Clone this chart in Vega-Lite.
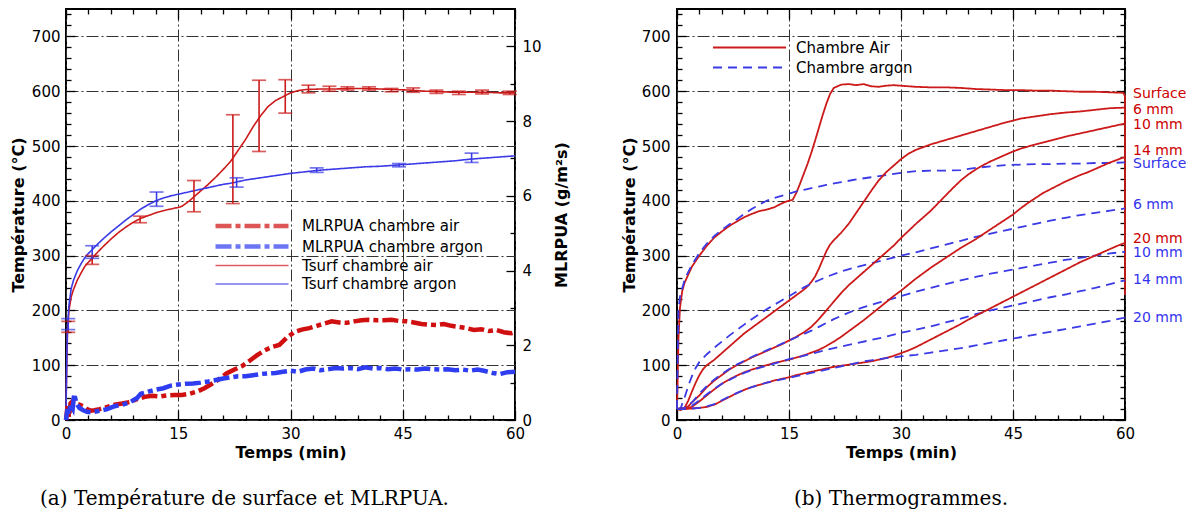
{
"$schema": "https://vega.github.io/schema/vega-lite/v6.json",
"padding": {"left": 9, "top": 6, "right": 5, "bottom": 10},
"bounds": "flush",
"spacing": 162,
"background": "white",
"resolve": {"scale": {"color": "independent", "strokeDash": "independent", "strokeWidth": "independent"}},
"config": {
  "view": {"stroke": "black", "strokeWidth": 2},
  "axis": {"labelFont": "DejaVu Sans", "labelFontSize": 15, "labelColor": "black", "titleFont": "DejaVu Sans", "titleFontSize": 16, "titleFontWeight": "bold", "titleColor": "black", "domain": false, "tickColor": "black", "tickWidth": 1.3, "gridColor": "#333333", "gridDash": [12, 3, 2, 3], "gridWidth": 1, "labelFlush": false, "labelOverlap": false, "labelBound": false}
},
"datasets": {
  "tsurf": [
    {"s":"Tsurf chambre air","t":0,"T":20},{"s":"Tsurf chambre air","t":0.1,"T":100},{"s":"Tsurf chambre air","t":0.2,"T":160},{"s":"Tsurf chambre air","t":0.4,"T":200},{"s":"Tsurf chambre air","t":0.7,"T":225},{"s":"Tsurf chambre air","t":1,"T":238},{"s":"Tsurf chambre air","t":1.5,"T":255},{"s":"Tsurf chambre air","t":2,"T":268},{"s":"Tsurf chambre air","t":2.5,"T":280},{"s":"Tsurf chambre air","t":3,"T":288},{"s":"Tsurf chambre air","t":3.5,"T":295},{"s":"Tsurf chambre air","t":4,"T":303},{"s":"Tsurf chambre air","t":5,"T":317},{"s":"Tsurf chambre air","t":6,"T":330},{"s":"Tsurf chambre air","t":7,"T":342},{"s":"Tsurf chambre air","t":8,"T":352},{"s":"Tsurf chambre air","t":9,"T":361},{"s":"Tsurf chambre air","t":10,"T":368},{"s":"Tsurf chambre air","t":11,"T":373},{"s":"Tsurf chambre air","t":12,"T":378},{"s":"Tsurf chambre air","t":13,"T":382},{"s":"Tsurf chambre air","t":14,"T":385},{"s":"Tsurf chambre air","t":15,"T":388},{"s":"Tsurf chambre air","t":15.5,"T":390},{"s":"Tsurf chambre air","t":16,"T":395},{"s":"Tsurf chambre air","t":16.5,"T":400},{"s":"Tsurf chambre air","t":17,"T":406},{"s":"Tsurf chambre air","t":17.5,"T":412},{"s":"Tsurf chambre air","t":18,"T":418},{"s":"Tsurf chambre air","t":19,"T":430},{"s":"Tsurf chambre air","t":20,"T":443},{"s":"Tsurf chambre air","t":21,"T":457},{"s":"Tsurf chambre air","t":22,"T":472},{"s":"Tsurf chambre air","t":23,"T":492},{"s":"Tsurf chambre air","t":24,"T":512},{"s":"Tsurf chambre air","t":25,"T":535},{"s":"Tsurf chambre air","t":26,"T":555},{"s":"Tsurf chambre air","t":27,"T":572},{"s":"Tsurf chambre air","t":28,"T":583},{"s":"Tsurf chambre air","t":29,"T":590},{"s":"Tsurf chambre air","t":30,"T":597},{"s":"Tsurf chambre air","t":31,"T":601},{"s":"Tsurf chambre air","t":32,"T":603},{"s":"Tsurf chambre air","t":34,"T":604},{"s":"Tsurf chambre air","t":36,"T":604},{"s":"Tsurf chambre air","t":38,"T":605},{"s":"Tsurf chambre air","t":40,"T":605},{"s":"Tsurf chambre air","t":42,"T":604},{"s":"Tsurf chambre air","t":44,"T":603},{"s":"Tsurf chambre air","t":46,"T":602},{"s":"Tsurf chambre air","t":48,"T":600},{"s":"Tsurf chambre air","t":50,"T":599},{"s":"Tsurf chambre air","t":52,"T":598},{"s":"Tsurf chambre air","t":54,"T":598},{"s":"Tsurf chambre air","t":56,"T":598},{"s":"Tsurf chambre air","t":58,"T":597},{"s":"Tsurf chambre air","t":60,"T":597},
    {"s":"Tsurf chambre argon","t":0,"T":20},{"s":"Tsurf chambre argon","t":0.1,"T":110},{"s":"Tsurf chambre argon","t":0.2,"T":170},{"s":"Tsurf chambre argon","t":0.4,"T":210},{"s":"Tsurf chambre argon","t":0.7,"T":240},{"s":"Tsurf chambre argon","t":1,"T":255},{"s":"Tsurf chambre argon","t":1.5,"T":272},{"s":"Tsurf chambre argon","t":2,"T":285},{"s":"Tsurf chambre argon","t":2.5,"T":296},{"s":"Tsurf chambre argon","t":3,"T":304},{"s":"Tsurf chambre argon","t":3.5,"T":311},{"s":"Tsurf chambre argon","t":4,"T":318},{"s":"Tsurf chambre argon","t":5,"T":331},{"s":"Tsurf chambre argon","t":6,"T":343},{"s":"Tsurf chambre argon","t":7,"T":354},{"s":"Tsurf chambre argon","t":8,"T":365},{"s":"Tsurf chambre argon","t":9,"T":375},{"s":"Tsurf chambre argon","t":10,"T":385},{"s":"Tsurf chambre argon","t":11,"T":393},{"s":"Tsurf chambre argon","t":12,"T":400},{"s":"Tsurf chambre argon","t":13,"T":405},{"s":"Tsurf chambre argon","t":14,"T":409},{"s":"Tsurf chambre argon","t":15,"T":412},{"s":"Tsurf chambre argon","t":16,"T":415},{"s":"Tsurf chambre argon","t":17,"T":418},{"s":"Tsurf chambre argon","t":18,"T":421},{"s":"Tsurf chambre argon","t":19,"T":424},{"s":"Tsurf chambre argon","t":20,"T":427},{"s":"Tsurf chambre argon","t":21,"T":430},{"s":"Tsurf chambre argon","t":22,"T":432},{"s":"Tsurf chambre argon","t":23,"T":435},{"s":"Tsurf chambre argon","t":24,"T":438},{"s":"Tsurf chambre argon","t":25,"T":440},{"s":"Tsurf chambre argon","t":26,"T":442},{"s":"Tsurf chambre argon","t":27,"T":444},{"s":"Tsurf chambre argon","t":28,"T":446},{"s":"Tsurf chambre argon","t":29,"T":448},{"s":"Tsurf chambre argon","t":30,"T":450},{"s":"Tsurf chambre argon","t":32,"T":453},{"s":"Tsurf chambre argon","t":34,"T":456},{"s":"Tsurf chambre argon","t":36,"T":458},{"s":"Tsurf chambre argon","t":38,"T":460},{"s":"Tsurf chambre argon","t":40,"T":462},{"s":"Tsurf chambre argon","t":42,"T":463},{"s":"Tsurf chambre argon","t":44,"T":465},{"s":"Tsurf chambre argon","t":46,"T":467},{"s":"Tsurf chambre argon","t":48,"T":469},{"s":"Tsurf chambre argon","t":50,"T":471},{"s":"Tsurf chambre argon","t":52,"T":473},{"s":"Tsurf chambre argon","t":54,"T":476},{"s":"Tsurf chambre argon","t":56,"T":478},{"s":"Tsurf chambre argon","t":58,"T":480},{"s":"Tsurf chambre argon","t":60,"T":482}
  ],
  "err": [
    {"s":"Tsurf chambre air","t":0.3,"lo":160,"hi":180},{"s":"Tsurf chambre air","t":3.5,"lo":284,"hi":300},{"s":"Tsurf chambre air","t":9.9,"lo":360,"hi":372},{"s":"Tsurf chambre air","t":17.1,"lo":380,"hi":437},{"s":"Tsurf chambre air","t":22.3,"lo":395,"hi":557},{"s":"Tsurf chambre air","t":25.8,"lo":490,"hi":620},{"s":"Tsurf chambre air","t":29.3,"lo":560,"hi":621},{"s":"Tsurf chambre air","t":32.4,"lo":597,"hi":611},{"s":"Tsurf chambre air","t":35.2,"lo":600,"hi":609},{"s":"Tsurf chambre air","t":37.6,"lo":602,"hi":608},{"s":"Tsurf chambre air","t":40.5,"lo":602,"hi":608},{"s":"Tsurf chambre air","t":43.5,"lo":599,"hi":605},{"s":"Tsurf chambre air","t":46.4,"lo":598,"hi":606},{"s":"Tsurf chambre air","t":49.5,"lo":596,"hi":602},{"s":"Tsurf chambre air","t":52.5,"lo":594,"hi":600},{"s":"Tsurf chambre air","t":55.6,"lo":595,"hi":602},{"s":"Tsurf chambre air","t":59.3,"lo":594,"hi":600},
    {"s":"Tsurf chambre argon","t":0.3,"lo":165,"hi":185},{"s":"Tsurf chambre argon","t":3.5,"lo":295,"hi":318},{"s":"Tsurf chambre argon","t":12.1,"lo":390,"hi":416},{"s":"Tsurf chambre argon","t":22.8,"lo":425,"hi":442},{"s":"Tsurf chambre argon","t":33.5,"lo":452,"hi":460},{"s":"Tsurf chambre argon","t":44.5,"lo":462,"hi":468},{"s":"Tsurf chambre argon","t":54.2,"lo":470,"hi":487}
  ],
  "mlr": [
    {"s":"MLRPUA chambre air","t":0,"m":0},{"s":"MLRPUA chambre air","t":0.2,"m":0.37},{"s":"MLRPUA chambre air","t":0.4,"m":0.07},{"s":"MLRPUA chambre air","t":0.6,"m":0.44},{"s":"MLRPUA chambre air","t":0.9,"m":0.51},{"s":"MLRPUA chambre air","t":1.3,"m":0.44},{"s":"MLRPUA chambre air","t":1.8,"m":0.41},{"s":"MLRPUA chambre air","t":2.3,"m":0.37},{"s":"MLRPUA chambre air","t":2.8,"m":0.29},{"s":"MLRPUA chambre air","t":3.3,"m":0.25},{"s":"MLRPUA chambre air","t":3.8,"m":0.26},{"s":"MLRPUA chambre air","t":4.5,"m":0.29},{"s":"MLRPUA chambre air","t":5.5,"m":0.35},{"s":"MLRPUA chambre air","t":6.5,"m":0.41},{"s":"MLRPUA chambre air","t":7.5,"m":0.44},{"s":"MLRPUA chambre air","t":8.5,"m":0.48},{"s":"MLRPUA chambre air","t":9.5,"m":0.56},{"s":"MLRPUA chambre air","t":10.5,"m":0.62},{"s":"MLRPUA chambre air","t":11.5,"m":0.65},{"s":"MLRPUA chambre air","t":12.5,"m":0.63},{"s":"MLRPUA chambre air","t":13.5,"m":0.66},{"s":"MLRPUA chambre air","t":14.5,"m":0.67},{"s":"MLRPUA chambre air","t":15.5,"m":0.67},{"s":"MLRPUA chambre air","t":16.5,"m":0.7},{"s":"MLRPUA chambre air","t":17.5,"m":0.76},{"s":"MLRPUA chambre air","t":18.5,"m":0.85},{"s":"MLRPUA chambre air","t":19.5,"m":0.97},{"s":"MLRPUA chambre air","t":20.5,"m":1.1},{"s":"MLRPUA chambre air","t":21.5,"m":1.25},{"s":"MLRPUA chambre air","t":22.5,"m":1.35},{"s":"MLRPUA chambre air","t":23.5,"m":1.44},{"s":"MLRPUA chambre air","t":24.5,"m":1.58},{"s":"MLRPUA chambre air","t":25.5,"m":1.73},{"s":"MLRPUA chambre air","t":26.5,"m":1.86},{"s":"MLRPUA chambre air","t":27.5,"m":1.95},{"s":"MLRPUA chambre air","t":28.5,"m":2.01},{"s":"MLRPUA chambre air","t":29.5,"m":2.2},{"s":"MLRPUA chambre air","t":30.5,"m":2.35},{"s":"MLRPUA chambre air","t":31.5,"m":2.42},{"s":"MLRPUA chambre air","t":32.5,"m":2.46},{"s":"MLRPUA chambre air","t":33.5,"m":2.52},{"s":"MLRPUA chambre air","t":34.5,"m":2.58},{"s":"MLRPUA chambre air","t":35.5,"m":2.64},{"s":"MLRPUA chambre air","t":36.5,"m":2.61},{"s":"MLRPUA chambre air","t":37.5,"m":2.6},{"s":"MLRPUA chambre air","t":38.5,"m":2.64},{"s":"MLRPUA chambre air","t":39.5,"m":2.67},{"s":"MLRPUA chambre air","t":40.5,"m":2.68},{"s":"MLRPUA chambre air","t":41.5,"m":2.67},{"s":"MLRPUA chambre air","t":42.5,"m":2.67},{"s":"MLRPUA chambre air","t":43.5,"m":2.68},{"s":"MLRPUA chambre air","t":44.5,"m":2.65},{"s":"MLRPUA chambre air","t":45.5,"m":2.64},{"s":"MLRPUA chambre air","t":46.5,"m":2.61},{"s":"MLRPUA chambre air","t":47.5,"m":2.57},{"s":"MLRPUA chambre air","t":48.5,"m":2.55},{"s":"MLRPUA chambre air","t":49.5,"m":2.54},{"s":"MLRPUA chambre air","t":50.5,"m":2.57},{"s":"MLRPUA chambre air","t":51.5,"m":2.52},{"s":"MLRPUA chambre air","t":52.5,"m":2.49},{"s":"MLRPUA chambre air","t":53.5,"m":2.46},{"s":"MLRPUA chambre air","t":54.5,"m":2.41},{"s":"MLRPUA chambre air","t":55.5,"m":2.43},{"s":"MLRPUA chambre air","t":56.5,"m":2.38},{"s":"MLRPUA chambre air","t":57.5,"m":2.41},{"s":"MLRPUA chambre air","t":58.5,"m":2.35},{"s":"MLRPUA chambre air","t":59.5,"m":2.32},{"s":"MLRPUA chambre air","t":60,"m":2.35},
    {"s":"MLRPUA chambre argon","t":0,"m":0},{"s":"MLRPUA chambre argon","t":0.2,"m":0.29},{"s":"MLRPUA chambre argon","t":0.4,"m":0.15},{"s":"MLRPUA chambre argon","t":0.6,"m":0.44},{"s":"MLRPUA chambre argon","t":0.9,"m":0.32},{"s":"MLRPUA chambre argon","t":1.1,"m":0.7},{"s":"MLRPUA chambre argon","t":1.4,"m":0.44},{"s":"MLRPUA chambre argon","t":1.8,"m":0.32},{"s":"MLRPUA chambre argon","t":2.3,"m":0.26},{"s":"MLRPUA chambre argon","t":2.8,"m":0.22},{"s":"MLRPUA chambre argon","t":3.3,"m":0.21},{"s":"MLRPUA chambre argon","t":3.8,"m":0.22},{"s":"MLRPUA chambre argon","t":4.5,"m":0.25},{"s":"MLRPUA chambre argon","t":5.5,"m":0.29},{"s":"MLRPUA chambre argon","t":6.5,"m":0.37},{"s":"MLRPUA chambre argon","t":7.5,"m":0.41},{"s":"MLRPUA chambre argon","t":8.5,"m":0.47},{"s":"MLRPUA chambre argon","t":9.5,"m":0.59},{"s":"MLRPUA chambre argon","t":10,"m":0.7},{"s":"MLRPUA chambre argon","t":11,"m":0.76},{"s":"MLRPUA chambre argon","t":12,"m":0.81},{"s":"MLRPUA chambre argon","t":13,"m":0.85},{"s":"MLRPUA chambre argon","t":14,"m":0.92},{"s":"MLRPUA chambre argon","t":15,"m":0.95},{"s":"MLRPUA chambre argon","t":16,"m":0.97},{"s":"MLRPUA chambre argon","t":17,"m":0.98},{"s":"MLRPUA chambre argon","t":18,"m":1.0},{"s":"MLRPUA chambre argon","t":19,"m":1.03},{"s":"MLRPUA chambre argon","t":20,"m":1.07},{"s":"MLRPUA chambre argon","t":21,"m":1.11},{"s":"MLRPUA chambre argon","t":22,"m":1.14},{"s":"MLRPUA chambre argon","t":23,"m":1.17},{"s":"MLRPUA chambre argon","t":24,"m":1.17},{"s":"MLRPUA chambre argon","t":25,"m":1.2},{"s":"MLRPUA chambre argon","t":26,"m":1.23},{"s":"MLRPUA chambre argon","t":27,"m":1.25},{"s":"MLRPUA chambre argon","t":28,"m":1.26},{"s":"MLRPUA chambre argon","t":29,"m":1.29},{"s":"MLRPUA chambre argon","t":30,"m":1.32},{"s":"MLRPUA chambre argon","t":31,"m":1.29},{"s":"MLRPUA chambre argon","t":32,"m":1.35},{"s":"MLRPUA chambre argon","t":33,"m":1.38},{"s":"MLRPUA chambre argon","t":34,"m":1.33},{"s":"MLRPUA chambre argon","t":35,"m":1.36},{"s":"MLRPUA chambre argon","t":36,"m":1.39},{"s":"MLRPUA chambre argon","t":37,"m":1.38},{"s":"MLRPUA chambre argon","t":38,"m":1.39},{"s":"MLRPUA chambre argon","t":39,"m":1.36},{"s":"MLRPUA chambre argon","t":40,"m":1.41},{"s":"MLRPUA chambre argon","t":41,"m":1.38},{"s":"MLRPUA chambre argon","t":42,"m":1.39},{"s":"MLRPUA chambre argon","t":43,"m":1.36},{"s":"MLRPUA chambre argon","t":44,"m":1.38},{"s":"MLRPUA chambre argon","t":45,"m":1.35},{"s":"MLRPUA chambre argon","t":46,"m":1.36},{"s":"MLRPUA chambre argon","t":47,"m":1.35},{"s":"MLRPUA chambre argon","t":48,"m":1.38},{"s":"MLRPUA chambre argon","t":49,"m":1.36},{"s":"MLRPUA chambre argon","t":50,"m":1.35},{"s":"MLRPUA chambre argon","t":51,"m":1.36},{"s":"MLRPUA chambre argon","t":52,"m":1.33},{"s":"MLRPUA chambre argon","t":53,"m":1.35},{"s":"MLRPUA chambre argon","t":54,"m":1.32},{"s":"MLRPUA chambre argon","t":55,"m":1.35},{"s":"MLRPUA chambre argon","t":56,"m":1.31},{"s":"MLRPUA chambre argon","t":57,"m":1.26},{"s":"MLRPUA chambre argon","t":58,"m":1.23},{"s":"MLRPUA chambre argon","t":59,"m":1.28},{"s":"MLRPUA chambre argon","t":60,"m":1.29}
  ],
  "thermo": [
    {"g":"Chambre Air","d":"Surface","t":0,"T":20},{"g":"Chambre Air","d":"Surface","t":0.1,"T":80},{"g":"Chambre Air","d":"Surface","t":0.2,"T":150},{"g":"Chambre Air","d":"Surface","t":0.4,"T":205},{"g":"Chambre Air","d":"Surface","t":0.7,"T":235},{"g":"Chambre Air","d":"Surface","t":1,"T":250},{"g":"Chambre Air","d":"Surface","t":1.5,"T":265},{"g":"Chambre Air","d":"Surface","t":2,"T":280},{"g":"Chambre Air","d":"Surface","t":3,"T":300},{"g":"Chambre Air","d":"Surface","t":4,"T":318},{"g":"Chambre Air","d":"Surface","t":5,"T":333},{"g":"Chambre Air","d":"Surface","t":6,"T":344},{"g":"Chambre Air","d":"Surface","t":7,"T":354},{"g":"Chambre Air","d":"Surface","t":8,"T":362},{"g":"Chambre Air","d":"Surface","t":9,"T":370},{"g":"Chambre Air","d":"Surface","t":10,"T":376},{"g":"Chambre Air","d":"Surface","t":11,"T":381},{"g":"Chambre Air","d":"Surface","t":12,"T":384},{"g":"Chambre Air","d":"Surface","t":13,"T":388},{"g":"Chambre Air","d":"Surface","t":14,"T":395},{"g":"Chambre Air","d":"Surface","t":14.5,"T":398},{"g":"Chambre Air","d":"Surface","t":15,"T":400},{"g":"Chambre Air","d":"Surface","t":15.5,"T":402},{"g":"Chambre Air","d":"Surface","t":16,"T":415},{"g":"Chambre Air","d":"Surface","t":16.5,"T":432},{"g":"Chambre Air","d":"Surface","t":17,"T":450},{"g":"Chambre Air","d":"Surface","t":17.5,"T":468},{"g":"Chambre Air","d":"Surface","t":18,"T":488},{"g":"Chambre Air","d":"Surface","t":18.5,"T":510},{"g":"Chambre Air","d":"Surface","t":19,"T":533},{"g":"Chambre Air","d":"Surface","t":19.5,"T":556},{"g":"Chambre Air","d":"Surface","t":20,"T":577},{"g":"Chambre Air","d":"Surface","t":20.5,"T":595},{"g":"Chambre Air","d":"Surface","t":21,"T":606},{"g":"Chambre Air","d":"Surface","t":22,"T":612},{"g":"Chambre Air","d":"Surface","t":23,"T":613},{"g":"Chambre Air","d":"Surface","t":24,"T":611},{"g":"Chambre Air","d":"Surface","t":25,"T":613},{"g":"Chambre Air","d":"Surface","t":26,"T":609},{"g":"Chambre Air","d":"Surface","t":27,"T":608},{"g":"Chambre Air","d":"Surface","t":28,"T":610},{"g":"Chambre Air","d":"Surface","t":29,"T":611},{"g":"Chambre Air","d":"Surface","t":30,"T":610},{"g":"Chambre Air","d":"Surface","t":32,"T":608},{"g":"Chambre Air","d":"Surface","t":34,"T":607},{"g":"Chambre Air","d":"Surface","t":36,"T":607},{"g":"Chambre Air","d":"Surface","t":38,"T":606},{"g":"Chambre Air","d":"Surface","t":40,"T":604},{"g":"Chambre Air","d":"Surface","t":42,"T":603},{"g":"Chambre Air","d":"Surface","t":44,"T":602},{"g":"Chambre Air","d":"Surface","t":46,"T":602},{"g":"Chambre Air","d":"Surface","t":48,"T":601},{"g":"Chambre Air","d":"Surface","t":50,"T":601},{"g":"Chambre Air","d":"Surface","t":52,"T":600},{"g":"Chambre Air","d":"Surface","t":54,"T":599},{"g":"Chambre Air","d":"Surface","t":56,"T":599},{"g":"Chambre Air","d":"Surface","t":58,"T":598},{"g":"Chambre Air","d":"Surface","t":59.8,"T":597},{"g":"Chambre Air","d":"Surface","t":60,"T":590},{"g":"Chambre Air","d":"Surface","t":60,"T":228},
    {"g":"Chambre argon","d":"Surface","t":0,"T":20},{"g":"Chambre argon","d":"Surface","t":0.1,"T":120},{"g":"Chambre argon","d":"Surface","t":0.2,"T":200},{"g":"Chambre argon","d":"Surface","t":0.4,"T":225},{"g":"Chambre argon","d":"Surface","t":0.7,"T":240},{"g":"Chambre argon","d":"Surface","t":1,"T":255},{"g":"Chambre argon","d":"Surface","t":1.5,"T":270},{"g":"Chambre argon","d":"Surface","t":2,"T":283},{"g":"Chambre argon","d":"Surface","t":3,"T":305},{"g":"Chambre argon","d":"Surface","t":4,"T":322},{"g":"Chambre argon","d":"Surface","t":5,"T":336},{"g":"Chambre argon","d":"Surface","t":6,"T":347},{"g":"Chambre argon","d":"Surface","t":7,"T":357},{"g":"Chambre argon","d":"Surface","t":8,"T":366},{"g":"Chambre argon","d":"Surface","t":9,"T":376},{"g":"Chambre argon","d":"Surface","t":10,"T":385},{"g":"Chambre argon","d":"Surface","t":11,"T":393},{"g":"Chambre argon","d":"Surface","t":12,"T":400},{"g":"Chambre argon","d":"Surface","t":13,"T":405},{"g":"Chambre argon","d":"Surface","t":14,"T":409},{"g":"Chambre argon","d":"Surface","t":15,"T":413},{"g":"Chambre argon","d":"Surface","t":16,"T":417},{"g":"Chambre argon","d":"Surface","t":17,"T":420},{"g":"Chambre argon","d":"Surface","t":18,"T":423},{"g":"Chambre argon","d":"Surface","t":19,"T":426},{"g":"Chambre argon","d":"Surface","t":20,"T":429},{"g":"Chambre argon","d":"Surface","t":22,"T":434},{"g":"Chambre argon","d":"Surface","t":24,"T":439},{"g":"Chambre argon","d":"Surface","t":26,"T":443},{"g":"Chambre argon","d":"Surface","t":28,"T":447},{"g":"Chambre argon","d":"Surface","t":30,"T":451},{"g":"Chambre argon","d":"Surface","t":32,"T":454},{"g":"Chambre argon","d":"Surface","t":34,"T":455},{"g":"Chambre argon","d":"Surface","t":36,"T":455},{"g":"Chambre argon","d":"Surface","t":38,"T":456},{"g":"Chambre argon","d":"Surface","t":40,"T":460},{"g":"Chambre argon","d":"Surface","t":42,"T":463},{"g":"Chambre argon","d":"Surface","t":44,"T":465},{"g":"Chambre argon","d":"Surface","t":46,"T":466},{"g":"Chambre argon","d":"Surface","t":48,"T":467},{"g":"Chambre argon","d":"Surface","t":50,"T":467},{"g":"Chambre argon","d":"Surface","t":52,"T":468},{"g":"Chambre argon","d":"Surface","t":54,"T":468},{"g":"Chambre argon","d":"Surface","t":56,"T":469},{"g":"Chambre argon","d":"Surface","t":58,"T":469},{"g":"Chambre argon","d":"Surface","t":60,"T":470},
    {"g":"Chambre Air","d":"6 mm","t":0,"T":20},{"g":"Chambre Air","d":"6 mm","t":0.5,"T":18},{"g":"Chambre Air","d":"6 mm","t":1,"T":22},{"g":"Chambre Air","d":"6 mm","t":1.5,"T":35},{"g":"Chambre Air","d":"6 mm","t":2,"T":52},{"g":"Chambre Air","d":"6 mm","t":2.5,"T":68},{"g":"Chambre Air","d":"6 mm","t":3,"T":82},{"g":"Chambre Air","d":"6 mm","t":3.5,"T":93},{"g":"Chambre Air","d":"6 mm","t":4,"T":100},{"g":"Chambre Air","d":"6 mm","t":5,"T":110},{"g":"Chambre Air","d":"6 mm","t":6,"T":122},{"g":"Chambre Air","d":"6 mm","t":7,"T":134},{"g":"Chambre Air","d":"6 mm","t":8,"T":146},{"g":"Chambre Air","d":"6 mm","t":9,"T":158},{"g":"Chambre Air","d":"6 mm","t":10,"T":168},{"g":"Chambre Air","d":"6 mm","t":11,"T":178},{"g":"Chambre Air","d":"6 mm","t":12,"T":188},{"g":"Chambre Air","d":"6 mm","t":13,"T":198},{"g":"Chambre Air","d":"6 mm","t":14,"T":208},{"g":"Chambre Air","d":"6 mm","t":15,"T":218},{"g":"Chambre Air","d":"6 mm","t":16,"T":228},{"g":"Chambre Air","d":"6 mm","t":17,"T":238},{"g":"Chambre Air","d":"6 mm","t":17.5,"T":244},{"g":"Chambre Air","d":"6 mm","t":18,"T":252},{"g":"Chambre Air","d":"6 mm","t":18.5,"T":262},{"g":"Chambre Air","d":"6 mm","t":19,"T":276},{"g":"Chambre Air","d":"6 mm","t":19.5,"T":292},{"g":"Chambre Air","d":"6 mm","t":20,"T":308},{"g":"Chambre Air","d":"6 mm","t":20.5,"T":320},{"g":"Chambre Air","d":"6 mm","t":21,"T":328},{"g":"Chambre Air","d":"6 mm","t":22,"T":342},{"g":"Chambre Air","d":"6 mm","t":23,"T":358},{"g":"Chambre Air","d":"6 mm","t":24,"T":378},{"g":"Chambre Air","d":"6 mm","t":25,"T":398},{"g":"Chambre Air","d":"6 mm","t":26,"T":418},{"g":"Chambre Air","d":"6 mm","t":27,"T":437},{"g":"Chambre Air","d":"6 mm","t":28,"T":452},{"g":"Chambre Air","d":"6 mm","t":29,"T":464},{"g":"Chambre Air","d":"6 mm","t":30,"T":476},{"g":"Chambre Air","d":"6 mm","t":31,"T":486},{"g":"Chambre Air","d":"6 mm","t":32,"T":493},{"g":"Chambre Air","d":"6 mm","t":33,"T":498},{"g":"Chambre Air","d":"6 mm","t":34,"T":503},{"g":"Chambre Air","d":"6 mm","t":35,"T":507},{"g":"Chambre Air","d":"6 mm","t":36,"T":511},{"g":"Chambre Air","d":"6 mm","t":37,"T":515},{"g":"Chambre Air","d":"6 mm","t":38,"T":519},{"g":"Chambre Air","d":"6 mm","t":39,"T":523},{"g":"Chambre Air","d":"6 mm","t":40,"T":527},{"g":"Chambre Air","d":"6 mm","t":42,"T":535},{"g":"Chambre Air","d":"6 mm","t":44,"T":543},{"g":"Chambre Air","d":"6 mm","t":46,"T":550},{"g":"Chambre Air","d":"6 mm","t":48,"T":554},{"g":"Chambre Air","d":"6 mm","t":50,"T":558},{"g":"Chambre Air","d":"6 mm","t":52,"T":561},{"g":"Chambre Air","d":"6 mm","t":54,"T":563},{"g":"Chambre Air","d":"6 mm","t":56,"T":566},{"g":"Chambre Air","d":"6 mm","t":58,"T":569},{"g":"Chambre Air","d":"6 mm","t":60,"T":570},
    {"g":"Chambre argon","d":"6 mm","t":0,"T":20},{"g":"Chambre argon","d":"6 mm","t":0.5,"T":22},{"g":"Chambre argon","d":"6 mm","t":1,"T":40},{"g":"Chambre argon","d":"6 mm","t":1.5,"T":62},{"g":"Chambre argon","d":"6 mm","t":2,"T":80},{"g":"Chambre argon","d":"6 mm","t":2.5,"T":95},{"g":"Chambre argon","d":"6 mm","t":3,"T":106},{"g":"Chambre argon","d":"6 mm","t":4,"T":120},{"g":"Chambre argon","d":"6 mm","t":5,"T":132},{"g":"Chambre argon","d":"6 mm","t":6,"T":143},{"g":"Chambre argon","d":"6 mm","t":7,"T":154},{"g":"Chambre argon","d":"6 mm","t":8,"T":164},{"g":"Chambre argon","d":"6 mm","t":9,"T":174},{"g":"Chambre argon","d":"6 mm","t":10,"T":184},{"g":"Chambre argon","d":"6 mm","t":11,"T":193},{"g":"Chambre argon","d":"6 mm","t":12,"T":202},{"g":"Chambre argon","d":"6 mm","t":13,"T":210},{"g":"Chambre argon","d":"6 mm","t":14,"T":218},{"g":"Chambre argon","d":"6 mm","t":15,"T":226},{"g":"Chambre argon","d":"6 mm","t":16,"T":234},{"g":"Chambre argon","d":"6 mm","t":17,"T":242},{"g":"Chambre argon","d":"6 mm","t":18,"T":249},{"g":"Chambre argon","d":"6 mm","t":19,"T":255},{"g":"Chambre argon","d":"6 mm","t":20,"T":261},{"g":"Chambre argon","d":"6 mm","t":22,"T":271},{"g":"Chambre argon","d":"6 mm","t":24,"T":279},{"g":"Chambre argon","d":"6 mm","t":26,"T":286},{"g":"Chambre argon","d":"6 mm","t":28,"T":293},{"g":"Chambre argon","d":"6 mm","t":30,"T":300},{"g":"Chambre argon","d":"6 mm","t":32,"T":306},{"g":"Chambre argon","d":"6 mm","t":34,"T":313},{"g":"Chambre argon","d":"6 mm","t":36,"T":320},{"g":"Chambre argon","d":"6 mm","t":38,"T":327},{"g":"Chambre argon","d":"6 mm","t":40,"T":334},{"g":"Chambre argon","d":"6 mm","t":42,"T":340},{"g":"Chambre argon","d":"6 mm","t":44,"T":346},{"g":"Chambre argon","d":"6 mm","t":46,"T":352},{"g":"Chambre argon","d":"6 mm","t":48,"T":358},{"g":"Chambre argon","d":"6 mm","t":50,"T":364},{"g":"Chambre argon","d":"6 mm","t":52,"T":369},{"g":"Chambre argon","d":"6 mm","t":54,"T":374},{"g":"Chambre argon","d":"6 mm","t":56,"T":378},{"g":"Chambre argon","d":"6 mm","t":58,"T":382},{"g":"Chambre argon","d":"6 mm","t":60,"T":386},
    {"g":"Chambre Air","d":"10 mm","t":0,"T":20},{"g":"Chambre Air","d":"10 mm","t":1,"T":22},{"g":"Chambre Air","d":"10 mm","t":1.5,"T":25},{"g":"Chambre Air","d":"10 mm","t":2,"T":32},{"g":"Chambre Air","d":"10 mm","t":3,"T":45},{"g":"Chambre Air","d":"10 mm","t":4,"T":60},{"g":"Chambre Air","d":"10 mm","t":5,"T":72},{"g":"Chambre Air","d":"10 mm","t":6,"T":82},{"g":"Chambre Air","d":"10 mm","t":7,"T":92},{"g":"Chambre Air","d":"10 mm","t":8,"T":100},{"g":"Chambre Air","d":"10 mm","t":9,"T":107},{"g":"Chambre Air","d":"10 mm","t":10,"T":114},{"g":"Chambre Air","d":"10 mm","t":11,"T":120},{"g":"Chambre Air","d":"10 mm","t":12,"T":126},{"g":"Chambre Air","d":"10 mm","t":13,"T":132},{"g":"Chambre Air","d":"10 mm","t":14,"T":138},{"g":"Chambre Air","d":"10 mm","t":15,"T":145},{"g":"Chambre Air","d":"10 mm","t":16,"T":152},{"g":"Chambre Air","d":"10 mm","t":17,"T":160},{"g":"Chambre Air","d":"10 mm","t":18,"T":170},{"g":"Chambre Air","d":"10 mm","t":19,"T":184},{"g":"Chambre Air","d":"10 mm","t":20,"T":200},{"g":"Chambre Air","d":"10 mm","t":21,"T":216},{"g":"Chambre Air","d":"10 mm","t":22,"T":232},{"g":"Chambre Air","d":"10 mm","t":23,"T":246},{"g":"Chambre Air","d":"10 mm","t":24,"T":258},{"g":"Chambre Air","d":"10 mm","t":25,"T":270},{"g":"Chambre Air","d":"10 mm","t":26,"T":282},{"g":"Chambre Air","d":"10 mm","t":27,"T":294},{"g":"Chambre Air","d":"10 mm","t":28,"T":306},{"g":"Chambre Air","d":"10 mm","t":29,"T":318},{"g":"Chambre Air","d":"10 mm","t":30,"T":332},{"g":"Chambre Air","d":"10 mm","t":31,"T":345},{"g":"Chambre Air","d":"10 mm","t":32,"T":358},{"g":"Chambre Air","d":"10 mm","t":33,"T":370},{"g":"Chambre Air","d":"10 mm","t":34,"T":382},{"g":"Chambre Air","d":"10 mm","t":35,"T":396},{"g":"Chambre Air","d":"10 mm","t":36,"T":410},{"g":"Chambre Air","d":"10 mm","t":37,"T":424},{"g":"Chambre Air","d":"10 mm","t":38,"T":437},{"g":"Chambre Air","d":"10 mm","t":39,"T":448},{"g":"Chambre Air","d":"10 mm","t":40,"T":457},{"g":"Chambre Air","d":"10 mm","t":41,"T":465},{"g":"Chambre Air","d":"10 mm","t":42,"T":472},{"g":"Chambre Air","d":"10 mm","t":43,"T":478},{"g":"Chambre Air","d":"10 mm","t":44,"T":484},{"g":"Chambre Air","d":"10 mm","t":45,"T":490},{"g":"Chambre Air","d":"10 mm","t":46,"T":495},{"g":"Chambre Air","d":"10 mm","t":48,"T":503},{"g":"Chambre Air","d":"10 mm","t":50,"T":510},{"g":"Chambre Air","d":"10 mm","t":52,"T":517},{"g":"Chambre Air","d":"10 mm","t":54,"T":523},{"g":"Chambre Air","d":"10 mm","t":56,"T":529},{"g":"Chambre Air","d":"10 mm","t":58,"T":535},{"g":"Chambre Air","d":"10 mm","t":60,"T":541},
    {"g":"Chambre argon","d":"10 mm","t":0,"T":20},{"g":"Chambre argon","d":"10 mm","t":1,"T":22},{"g":"Chambre argon","d":"10 mm","t":2,"T":32},{"g":"Chambre argon","d":"10 mm","t":3,"T":48},{"g":"Chambre argon","d":"10 mm","t":4,"T":62},{"g":"Chambre argon","d":"10 mm","t":5,"T":74},{"g":"Chambre argon","d":"10 mm","t":6,"T":84},{"g":"Chambre argon","d":"10 mm","t":7,"T":93},{"g":"Chambre argon","d":"10 mm","t":8,"T":101},{"g":"Chambre argon","d":"10 mm","t":9,"T":108},{"g":"Chambre argon","d":"10 mm","t":10,"T":115},{"g":"Chambre argon","d":"10 mm","t":11,"T":121},{"g":"Chambre argon","d":"10 mm","t":12,"T":127},{"g":"Chambre argon","d":"10 mm","t":13,"T":133},{"g":"Chambre argon","d":"10 mm","t":14,"T":139},{"g":"Chambre argon","d":"10 mm","t":15,"T":145},{"g":"Chambre argon","d":"10 mm","t":16,"T":151},{"g":"Chambre argon","d":"10 mm","t":17,"T":157},{"g":"Chambre argon","d":"10 mm","t":18,"T":163},{"g":"Chambre argon","d":"10 mm","t":19,"T":170},{"g":"Chambre argon","d":"10 mm","t":20,"T":177},{"g":"Chambre argon","d":"10 mm","t":21,"T":184},{"g":"Chambre argon","d":"10 mm","t":22,"T":190},{"g":"Chambre argon","d":"10 mm","t":23,"T":196},{"g":"Chambre argon","d":"10 mm","t":24,"T":201},{"g":"Chambre argon","d":"10 mm","t":25,"T":206},{"g":"Chambre argon","d":"10 mm","t":26,"T":210},{"g":"Chambre argon","d":"10 mm","t":27,"T":214},{"g":"Chambre argon","d":"10 mm","t":28,"T":218},{"g":"Chambre argon","d":"10 mm","t":30,"T":226},{"g":"Chambre argon","d":"10 mm","t":32,"T":234},{"g":"Chambre argon","d":"10 mm","t":34,"T":241},{"g":"Chambre argon","d":"10 mm","t":36,"T":248},{"g":"Chambre argon","d":"10 mm","t":38,"T":255},{"g":"Chambre argon","d":"10 mm","t":40,"T":261},{"g":"Chambre argon","d":"10 mm","t":42,"T":267},{"g":"Chambre argon","d":"10 mm","t":44,"T":272},{"g":"Chambre argon","d":"10 mm","t":46,"T":277},{"g":"Chambre argon","d":"10 mm","t":48,"T":282},{"g":"Chambre argon","d":"10 mm","t":50,"T":287},{"g":"Chambre argon","d":"10 mm","t":52,"T":292},{"g":"Chambre argon","d":"10 mm","t":54,"T":296},{"g":"Chambre argon","d":"10 mm","t":56,"T":300},{"g":"Chambre argon","d":"10 mm","t":58,"T":304},{"g":"Chambre argon","d":"10 mm","t":60,"T":307},
    {"g":"Chambre Air","d":"14 mm","t":0,"T":20},{"g":"Chambre Air","d":"14 mm","t":1,"T":20},{"g":"Chambre Air","d":"14 mm","t":2,"T":24},{"g":"Chambre Air","d":"14 mm","t":3,"T":34},{"g":"Chambre Air","d":"14 mm","t":4,"T":45},{"g":"Chambre Air","d":"14 mm","t":5,"T":56},{"g":"Chambre Air","d":"14 mm","t":6,"T":66},{"g":"Chambre Air","d":"14 mm","t":7,"T":74},{"g":"Chambre Air","d":"14 mm","t":8,"T":81},{"g":"Chambre Air","d":"14 mm","t":9,"T":87},{"g":"Chambre Air","d":"14 mm","t":10,"T":92},{"g":"Chambre Air","d":"14 mm","t":11,"T":96},{"g":"Chambre Air","d":"14 mm","t":12,"T":100},{"g":"Chambre Air","d":"14 mm","t":13,"T":104},{"g":"Chambre Air","d":"14 mm","t":14,"T":107},{"g":"Chambre Air","d":"14 mm","t":15,"T":110},{"g":"Chambre Air","d":"14 mm","t":16,"T":114},{"g":"Chambre Air","d":"14 mm","t":17,"T":118},{"g":"Chambre Air","d":"14 mm","t":18,"T":123},{"g":"Chambre Air","d":"14 mm","t":19,"T":128},{"g":"Chambre Air","d":"14 mm","t":20,"T":135},{"g":"Chambre Air","d":"14 mm","t":21,"T":143},{"g":"Chambre Air","d":"14 mm","t":22,"T":152},{"g":"Chambre Air","d":"14 mm","t":23,"T":162},{"g":"Chambre Air","d":"14 mm","t":24,"T":172},{"g":"Chambre Air","d":"14 mm","t":25,"T":182},{"g":"Chambre Air","d":"14 mm","t":26,"T":193},{"g":"Chambre Air","d":"14 mm","t":27,"T":204},{"g":"Chambre Air","d":"14 mm","t":28,"T":215},{"g":"Chambre Air","d":"14 mm","t":29,"T":226},{"g":"Chambre Air","d":"14 mm","t":30,"T":236},{"g":"Chambre Air","d":"14 mm","t":31,"T":247},{"g":"Chambre Air","d":"14 mm","t":32,"T":258},{"g":"Chambre Air","d":"14 mm","t":33,"T":268},{"g":"Chambre Air","d":"14 mm","t":34,"T":278},{"g":"Chambre Air","d":"14 mm","t":35,"T":287},{"g":"Chambre Air","d":"14 mm","t":36,"T":296},{"g":"Chambre Air","d":"14 mm","t":37,"T":305},{"g":"Chambre Air","d":"14 mm","t":38,"T":314},{"g":"Chambre Air","d":"14 mm","t":39,"T":322},{"g":"Chambre Air","d":"14 mm","t":40,"T":330},{"g":"Chambre Air","d":"14 mm","t":41,"T":339},{"g":"Chambre Air","d":"14 mm","t":42,"T":348},{"g":"Chambre Air","d":"14 mm","t":43,"T":357},{"g":"Chambre Air","d":"14 mm","t":44,"T":366},{"g":"Chambre Air","d":"14 mm","t":45,"T":375},{"g":"Chambre Air","d":"14 mm","t":46,"T":386},{"g":"Chambre Air","d":"14 mm","t":47,"T":396},{"g":"Chambre Air","d":"14 mm","t":48,"T":405},{"g":"Chambre Air","d":"14 mm","t":49,"T":414},{"g":"Chambre Air","d":"14 mm","t":50,"T":421},{"g":"Chambre Air","d":"14 mm","t":51,"T":428},{"g":"Chambre Air","d":"14 mm","t":52,"T":435},{"g":"Chambre Air","d":"14 mm","t":53,"T":441},{"g":"Chambre Air","d":"14 mm","t":54,"T":447},{"g":"Chambre Air","d":"14 mm","t":55,"T":452},{"g":"Chambre Air","d":"14 mm","t":56,"T":458},{"g":"Chambre Air","d":"14 mm","t":57,"T":464},{"g":"Chambre Air","d":"14 mm","t":58,"T":470},{"g":"Chambre Air","d":"14 mm","t":59,"T":475},{"g":"Chambre Air","d":"14 mm","t":60,"T":480},
    {"g":"Chambre argon","d":"14 mm","t":0,"T":20},{"g":"Chambre argon","d":"14 mm","t":1,"T":21},{"g":"Chambre argon","d":"14 mm","t":2,"T":26},{"g":"Chambre argon","d":"14 mm","t":3,"T":36},{"g":"Chambre argon","d":"14 mm","t":4,"T":47},{"g":"Chambre argon","d":"14 mm","t":5,"T":57},{"g":"Chambre argon","d":"14 mm","t":6,"T":66},{"g":"Chambre argon","d":"14 mm","t":7,"T":73},{"g":"Chambre argon","d":"14 mm","t":8,"T":80},{"g":"Chambre argon","d":"14 mm","t":9,"T":86},{"g":"Chambre argon","d":"14 mm","t":10,"T":91},{"g":"Chambre argon","d":"14 mm","t":11,"T":95},{"g":"Chambre argon","d":"14 mm","t":12,"T":99},{"g":"Chambre argon","d":"14 mm","t":13,"T":103},{"g":"Chambre argon","d":"14 mm","t":14,"T":107},{"g":"Chambre argon","d":"14 mm","t":15,"T":111},{"g":"Chambre argon","d":"14 mm","t":16,"T":114},{"g":"Chambre argon","d":"14 mm","t":18,"T":121},{"g":"Chambre argon","d":"14 mm","t":20,"T":128},{"g":"Chambre argon","d":"14 mm","t":22,"T":134},{"g":"Chambre argon","d":"14 mm","t":24,"T":140},{"g":"Chambre argon","d":"14 mm","t":26,"T":146},{"g":"Chambre argon","d":"14 mm","t":28,"T":152},{"g":"Chambre argon","d":"14 mm","t":30,"T":159},{"g":"Chambre argon","d":"14 mm","t":32,"T":165},{"g":"Chambre argon","d":"14 mm","t":34,"T":171},{"g":"Chambre argon","d":"14 mm","t":36,"T":178},{"g":"Chambre argon","d":"14 mm","t":38,"T":185},{"g":"Chambre argon","d":"14 mm","t":40,"T":193},{"g":"Chambre argon","d":"14 mm","t":42,"T":200},{"g":"Chambre argon","d":"14 mm","t":44,"T":206},{"g":"Chambre argon","d":"14 mm","t":46,"T":212},{"g":"Chambre argon","d":"14 mm","t":48,"T":218},{"g":"Chambre argon","d":"14 mm","t":50,"T":224},{"g":"Chambre argon","d":"14 mm","t":52,"T":229},{"g":"Chambre argon","d":"14 mm","t":54,"T":235},{"g":"Chambre argon","d":"14 mm","t":56,"T":241},{"g":"Chambre argon","d":"14 mm","t":58,"T":248},{"g":"Chambre argon","d":"14 mm","t":60,"T":255},
    {"g":"Chambre Air","d":"20 mm","t":0,"T":20},{"g":"Chambre Air","d":"20 mm","t":1,"T":20},{"g":"Chambre Air","d":"20 mm","t":2,"T":21},{"g":"Chambre Air","d":"20 mm","t":3,"T":22},{"g":"Chambre Air","d":"20 mm","t":4,"T":24},{"g":"Chambre Air","d":"20 mm","t":5,"T":28},{"g":"Chambre Air","d":"20 mm","t":6,"T":35},{"g":"Chambre Air","d":"20 mm","t":7,"T":42},{"g":"Chambre Air","d":"20 mm","t":8,"T":49},{"g":"Chambre Air","d":"20 mm","t":9,"T":55},{"g":"Chambre Air","d":"20 mm","t":10,"T":60},{"g":"Chambre Air","d":"20 mm","t":11,"T":64},{"g":"Chambre Air","d":"20 mm","t":12,"T":68},{"g":"Chambre Air","d":"20 mm","t":13,"T":72},{"g":"Chambre Air","d":"20 mm","t":14,"T":75},{"g":"Chambre Air","d":"20 mm","t":15,"T":78},{"g":"Chambre Air","d":"20 mm","t":16,"T":82},{"g":"Chambre Air","d":"20 mm","t":17,"T":85},{"g":"Chambre Air","d":"20 mm","t":18,"T":88},{"g":"Chambre Air","d":"20 mm","t":19,"T":91},{"g":"Chambre Air","d":"20 mm","t":20,"T":94},{"g":"Chambre Air","d":"20 mm","t":21,"T":97},{"g":"Chambre Air","d":"20 mm","t":22,"T":99},{"g":"Chambre Air","d":"20 mm","t":23,"T":101},{"g":"Chambre Air","d":"20 mm","t":24,"T":103},{"g":"Chambre Air","d":"20 mm","t":25,"T":105},{"g":"Chambre Air","d":"20 mm","t":26,"T":107},{"g":"Chambre Air","d":"20 mm","t":27,"T":110},{"g":"Chambre Air","d":"20 mm","t":28,"T":113},{"g":"Chambre Air","d":"20 mm","t":29,"T":117},{"g":"Chambre Air","d":"20 mm","t":30,"T":122},{"g":"Chambre Air","d":"20 mm","t":31,"T":127},{"g":"Chambre Air","d":"20 mm","t":32,"T":133},{"g":"Chambre Air","d":"20 mm","t":33,"T":140},{"g":"Chambre Air","d":"20 mm","t":34,"T":147},{"g":"Chambre Air","d":"20 mm","t":35,"T":154},{"g":"Chambre Air","d":"20 mm","t":36,"T":161},{"g":"Chambre Air","d":"20 mm","t":37,"T":168},{"g":"Chambre Air","d":"20 mm","t":38,"T":175},{"g":"Chambre Air","d":"20 mm","t":39,"T":183},{"g":"Chambre Air","d":"20 mm","t":40,"T":190},{"g":"Chambre Air","d":"20 mm","t":41,"T":197},{"g":"Chambre Air","d":"20 mm","t":42,"T":204},{"g":"Chambre Air","d":"20 mm","t":43,"T":211},{"g":"Chambre Air","d":"20 mm","t":44,"T":218},{"g":"Chambre Air","d":"20 mm","t":45,"T":225},{"g":"Chambre Air","d":"20 mm","t":46,"T":232},{"g":"Chambre Air","d":"20 mm","t":47,"T":239},{"g":"Chambre Air","d":"20 mm","t":48,"T":246},{"g":"Chambre Air","d":"20 mm","t":49,"T":253},{"g":"Chambre Air","d":"20 mm","t":50,"T":260},{"g":"Chambre Air","d":"20 mm","t":51,"T":267},{"g":"Chambre Air","d":"20 mm","t":52,"T":274},{"g":"Chambre Air","d":"20 mm","t":53,"T":281},{"g":"Chambre Air","d":"20 mm","t":54,"T":288},{"g":"Chambre Air","d":"20 mm","t":55,"T":294},{"g":"Chambre Air","d":"20 mm","t":56,"T":300},{"g":"Chambre Air","d":"20 mm","t":57,"T":306},{"g":"Chambre Air","d":"20 mm","t":58,"T":312},{"g":"Chambre Air","d":"20 mm","t":59,"T":318},{"g":"Chambre Air","d":"20 mm","t":60,"T":323},
    {"g":"Chambre argon","d":"20 mm","t":0,"T":20},{"g":"Chambre argon","d":"20 mm","t":1,"T":20},{"g":"Chambre argon","d":"20 mm","t":2,"T":21},{"g":"Chambre argon","d":"20 mm","t":3,"T":22},{"g":"Chambre argon","d":"20 mm","t":4,"T":25},{"g":"Chambre argon","d":"20 mm","t":5,"T":29},{"g":"Chambre argon","d":"20 mm","t":6,"T":36},{"g":"Chambre argon","d":"20 mm","t":7,"T":43},{"g":"Chambre argon","d":"20 mm","t":8,"T":49},{"g":"Chambre argon","d":"20 mm","t":9,"T":55},{"g":"Chambre argon","d":"20 mm","t":10,"T":60},{"g":"Chambre argon","d":"20 mm","t":11,"T":64},{"g":"Chambre argon","d":"20 mm","t":12,"T":68},{"g":"Chambre argon","d":"20 mm","t":13,"T":71},{"g":"Chambre argon","d":"20 mm","t":14,"T":74},{"g":"Chambre argon","d":"20 mm","t":15,"T":77},{"g":"Chambre argon","d":"20 mm","t":16,"T":80},{"g":"Chambre argon","d":"20 mm","t":17,"T":83},{"g":"Chambre argon","d":"20 mm","t":18,"T":86},{"g":"Chambre argon","d":"20 mm","t":19,"T":89},{"g":"Chambre argon","d":"20 mm","t":20,"T":92},{"g":"Chambre argon","d":"20 mm","t":21,"T":95},{"g":"Chambre argon","d":"20 mm","t":22,"T":98},{"g":"Chambre argon","d":"20 mm","t":23,"T":101},{"g":"Chambre argon","d":"20 mm","t":24,"T":104},{"g":"Chambre argon","d":"20 mm","t":25,"T":107},{"g":"Chambre argon","d":"20 mm","t":26,"T":109},{"g":"Chambre argon","d":"20 mm","t":27,"T":111},{"g":"Chambre argon","d":"20 mm","t":28,"T":113},{"g":"Chambre argon","d":"20 mm","t":29,"T":114},{"g":"Chambre argon","d":"20 mm","t":30,"T":116},{"g":"Chambre argon","d":"20 mm","t":32,"T":119},{"g":"Chambre argon","d":"20 mm","t":34,"T":123},{"g":"Chambre argon","d":"20 mm","t":36,"T":127},{"g":"Chambre argon","d":"20 mm","t":38,"T":131},{"g":"Chambre argon","d":"20 mm","t":40,"T":136},{"g":"Chambre argon","d":"20 mm","t":42,"T":141},{"g":"Chambre argon","d":"20 mm","t":44,"T":146},{"g":"Chambre argon","d":"20 mm","t":46,"T":151},{"g":"Chambre argon","d":"20 mm","t":48,"T":156},{"g":"Chambre argon","d":"20 mm","t":50,"T":161},{"g":"Chambre argon","d":"20 mm","t":52,"T":166},{"g":"Chambre argon","d":"20 mm","t":54,"T":171},{"g":"Chambre argon","d":"20 mm","t":56,"T":176},{"g":"Chambre argon","d":"20 mm","t":58,"T":181},{"g":"Chambre argon","d":"20 mm","t":60,"T":187}
  ],
  "labels": [
    {"g":"Chambre Air","label":"Surface","t":60,"T":594},
    {"g":"Chambre Air","label":"6 mm","t":60,"T":565},
    {"g":"Chambre Air","label":"10 mm","t":60,"T":538},
    {"g":"Chambre Air","label":"14 mm","t":60,"T":491},
    {"g":"Chambre argon","label":"Surface","t":60,"T":468},
    {"g":"Chambre argon","label":"6 mm","t":60,"T":393},
    {"g":"Chambre Air","label":"20 mm","t":60,"T":331},
    {"g":"Chambre argon","label":"10 mm","t":60,"T":305},
    {"g":"Chambre argon","label":"14 mm","t":60,"T":256},
    {"g":"Chambre argon","label":"20 mm","t":60,"T":187}
  ]
},
"hconcat": [
  {
    "width": 449,
    "height": 411,
    "title": {"text": "(a) Température de surface et MLRPUA.", "orient": "bottom", "anchor": "middle", "font": "DejaVu Serif", "fontSize": 20, "fontWeight": "normal", "color": "black", "offset": 29, "dx": -46},
    "layer": [
      {
        "layer": [
          {
            "data": {"name": "tsurf"},
            "mark": {"type": "line"},
            "encoding": {
              "x": {"field": "t", "type": "quantitative", "scale": {"domain": [0, 60], "nice": false},
                    "axis": {"orient": "bottom", "title": "Temps (min)", "values": [0,3,6,9,12,15,18,21,24,27,30,33,36,39,42,45,48,51,54,57,60], "labelExpr": "datum.value % 15 === 0 ? datum.label : ''", "grid": true, "gridOpacity": {"condition": {"test": "datum.value % 15 === 0", "value": 1}, "value": 0}, "tickSize": {"condition": {"test": "datum.value % 15 === 0", "value": -10}, "value": -5}, "labelPadding": 16, "titlePadding": -2}},
              "y": {"field": "T", "type": "quantitative", "scale": {"domain": [0, 750], "nice": false},
                    "axis": {"orient": "left", "title": "Température (°C)", "values": [0,20,40,60,80,100,120,140,160,180,200,220,240,260,280,300,320,340,360,380,400,420,440,460,480,500,520,540,560,580,600,620,640,660,680,700,720,740], "labelExpr": "datum.value % 100 === 0 ? datum.label : ''", "grid": true, "gridOpacity": {"condition": {"test": "datum.value % 100 === 0", "value": 1}, "value": 0}, "tickSize": {"condition": {"test": "datum.value % 100 === 0", "value": -9}, "value": -5}, "labelPadding": 15, "titlePadding": 5}},
              "color": {"field": "s", "type": "nominal", "scale": {"domain": ["MLRPUA chambre air", "MLRPUA chambre argon", "Tsurf chambre air", "Tsurf chambre argon"], "range": ["#d01010", "#2f3df0", "#cc1a1a", "#3a3ae6"]},
                        "legend": {"orient": "none", "legendX": 176, "legendY": 207, "title": null, "symbolType": "M-5,0L5,0", "symbolSize": 213, "symbolOpacity": 1, "labelFont": "DejaVu Sans", "labelFontSize": 15, "labelColor": "black", "labelOffset": 40, "labelLimit": 400, "rowPadding": 1.5, "padding": 0}},
              "strokeDash": {"field": "s", "type": "nominal", "scale": {"domain": ["MLRPUA chambre air", "MLRPUA chambre argon", "Tsurf chambre air", "Tsurf chambre argon"], "range": [[16, 4, 5, 4], [16, 4, 5, 4], [1, 0], [1, 0]]}},
              "strokeWidth": {"field": "s", "type": "nominal", "scale": {"type": "ordinal", "domain": ["MLRPUA chambre air", "MLRPUA chambre argon", "Tsurf chambre air", "Tsurf chambre argon"], "range": [4.5, 4.5, 1.6, 1.6]}}
            }
          },
          {
            "data": {"name": "err"},
            "mark": {"type": "rule"},
            "encoding": {
              "x": {"field": "t", "type": "quantitative", "scale": {"domain": [0, 60], "nice": false},
                    "axis": {"orient": "bottom", "title": "Temps (min)", "values": [0,3,6,9,12,15,18,21,24,27,30,33,36,39,42,45,48,51,54,57,60], "labelExpr": "datum.value % 15 === 0 ? datum.label : ''", "grid": true, "gridOpacity": {"condition": {"test": "datum.value % 15 === 0", "value": 1}, "value": 0}, "tickSize": {"condition": {"test": "datum.value % 15 === 0", "value": -10}, "value": -5}, "labelPadding": 16, "titlePadding": -2}},
              "y": {"field": "lo", "type": "quantitative", "scale": {"domain": [0, 750], "nice": false},
                    "axis": {"orient": "left", "title": "Température (°C)", "values": [0,20,40,60,80,100,120,140,160,180,200,220,240,260,280,300,320,340,360,380,400,420,440,460,480,500,520,540,560,580,600,620,640,660,680,700,720,740], "labelExpr": "datum.value % 100 === 0 ? datum.label : ''", "grid": true, "gridOpacity": {"condition": {"test": "datum.value % 100 === 0", "value": 1}, "value": 0}, "tickSize": {"condition": {"test": "datum.value % 100 === 0", "value": -9}, "value": -5}, "labelPadding": 15, "titlePadding": 5}},
              "y2": {"field": "hi"},
              "color": {"field": "s", "type": "nominal", "scale": {"domain": ["MLRPUA chambre air", "MLRPUA chambre argon", "Tsurf chambre air", "Tsurf chambre argon"], "range": ["#d01010", "#2f3df0", "#cc1a1a", "#3a3ae6"]}},
              "strokeDash": {"field": "s", "type": "nominal", "scale": {"domain": ["MLRPUA chambre air", "MLRPUA chambre argon", "Tsurf chambre air", "Tsurf chambre argon"], "range": [[16, 4, 5, 4], [16, 4, 5, 4], [1, 0], [1, 0]]}},
              "strokeWidth": {"field": "s", "type": "nominal", "scale": {"type": "ordinal", "domain": ["MLRPUA chambre air", "MLRPUA chambre argon", "Tsurf chambre air", "Tsurf chambre argon"], "range": [4.5, 4.5, 1.6, 1.6]}}
            }
          },
          {
            "data": {"name": "err"},
            "mark": {"type": "tick", "orient": "horizontal", "size": 14, "thickness": 1.7},
            "encoding": {
              "x": {"field": "t", "type": "quantitative", "scale": {"domain": [0, 60], "nice": false},
                    "axis": {"orient": "bottom", "title": "Temps (min)", "values": [0,3,6,9,12,15,18,21,24,27,30,33,36,39,42,45,48,51,54,57,60], "labelExpr": "datum.value % 15 === 0 ? datum.label : ''", "grid": true, "gridOpacity": {"condition": {"test": "datum.value % 15 === 0", "value": 1}, "value": 0}, "tickSize": {"condition": {"test": "datum.value % 15 === 0", "value": -10}, "value": -5}, "labelPadding": 16, "titlePadding": -2}},
              "y": {"field": "lo", "type": "quantitative", "scale": {"domain": [0, 750], "nice": false},
                    "axis": {"orient": "left", "title": "Température (°C)", "values": [0,20,40,60,80,100,120,140,160,180,200,220,240,260,280,300,320,340,360,380,400,420,440,460,480,500,520,540,560,580,600,620,640,660,680,700,720,740], "labelExpr": "datum.value % 100 === 0 ? datum.label : ''", "grid": true, "gridOpacity": {"condition": {"test": "datum.value % 100 === 0", "value": 1}, "value": 0}, "tickSize": {"condition": {"test": "datum.value % 100 === 0", "value": -9}, "value": -5}, "labelPadding": 15, "titlePadding": 5}},
              "color": {"field": "s", "type": "nominal", "scale": {"domain": ["MLRPUA chambre air", "MLRPUA chambre argon", "Tsurf chambre air", "Tsurf chambre argon"], "range": ["#d01010", "#2f3df0", "#cc1a1a", "#3a3ae6"]}},
              "strokeDash": {"field": "s", "type": "nominal", "scale": {"domain": ["MLRPUA chambre air", "MLRPUA chambre argon", "Tsurf chambre air", "Tsurf chambre argon"], "range": [[16, 4, 5, 4], [16, 4, 5, 4], [1, 0], [1, 0]]}},
              "strokeWidth": {"field": "s", "type": "nominal", "scale": {"type": "ordinal", "domain": ["MLRPUA chambre air", "MLRPUA chambre argon", "Tsurf chambre air", "Tsurf chambre argon"], "range": [4.5, 4.5, 1.6, 1.6]}}
            }
          },
          {
            "data": {"name": "err"},
            "mark": {"type": "tick", "orient": "horizontal", "size": 14, "thickness": 1.7},
            "encoding": {
              "x": {"field": "t", "type": "quantitative", "scale": {"domain": [0, 60], "nice": false},
                    "axis": {"orient": "bottom", "title": "Temps (min)", "values": [0,3,6,9,12,15,18,21,24,27,30,33,36,39,42,45,48,51,54,57,60], "labelExpr": "datum.value % 15 === 0 ? datum.label : ''", "grid": true, "gridOpacity": {"condition": {"test": "datum.value % 15 === 0", "value": 1}, "value": 0}, "tickSize": {"condition": {"test": "datum.value % 15 === 0", "value": -10}, "value": -5}, "labelPadding": 16, "titlePadding": -2}},
              "y": {"field": "hi", "type": "quantitative", "scale": {"domain": [0, 750], "nice": false},
                    "axis": {"orient": "left", "title": "Température (°C)", "values": [0,20,40,60,80,100,120,140,160,180,200,220,240,260,280,300,320,340,360,380,400,420,440,460,480,500,520,540,560,580,600,620,640,660,680,700,720,740], "labelExpr": "datum.value % 100 === 0 ? datum.label : ''", "grid": true, "gridOpacity": {"condition": {"test": "datum.value % 100 === 0", "value": 1}, "value": 0}, "tickSize": {"condition": {"test": "datum.value % 100 === 0", "value": -9}, "value": -5}, "labelPadding": 15, "titlePadding": 5}},
              "color": {"field": "s", "type": "nominal", "scale": {"domain": ["MLRPUA chambre air", "MLRPUA chambre argon", "Tsurf chambre air", "Tsurf chambre argon"], "range": ["#d01010", "#2f3df0", "#cc1a1a", "#3a3ae6"]}},
              "strokeDash": {"field": "s", "type": "nominal", "scale": {"domain": ["MLRPUA chambre air", "MLRPUA chambre argon", "Tsurf chambre air", "Tsurf chambre argon"], "range": [[16, 4, 5, 4], [16, 4, 5, 4], [1, 0], [1, 0]]}},
              "strokeWidth": {"field": "s", "type": "nominal", "scale": {"type": "ordinal", "domain": ["MLRPUA chambre air", "MLRPUA chambre argon", "Tsurf chambre air", "Tsurf chambre argon"], "range": [4.5, 4.5, 1.6, 1.6]}}
            }
          }
        ]
      },
      {
        "data": {"name": "mlr"},
        "mark": {"type": "line"},
        "encoding": {
          "x": {"field": "t", "type": "quantitative", "scale": {"domain": [0, 60], "nice": false},
                "axis": {"orient": "top", "title": null, "labels": false, "grid": false, "values": [0,3,6,9,12,15,18,21,24,27,30,33,36,39,42,45,48,51,54,57,60], "tickSize": {"condition": {"test": "datum.value % 15 === 0", "value": -10}, "value": -5}}},
          "y": {"field": "m", "type": "quantitative", "scale": {"domain": [0, 11], "nice": false},
                "axis": {"orient": "right", "title": "MLRPUA (g/m²s)", "titleAngle": 270, "titleBaseline": "top", "format": "d", "values": [0,0.5,1,1.5,2,2.5,3,3.5,4,4.5,5,5.5,6,6.5,7,7.5,8,8.5,9,9.5,10,10.5], "labelExpr": "datum.value % 2 === 0 ? datum.label : ''", "grid": false, "tickSize": {"condition": {"test": "datum.value % 2 === 0", "value": -9}, "value": -5}, "labelPadding": 16, "titlePadding": 12}},
          "color": {"field": "s", "type": "nominal", "scale": {"domain": ["MLRPUA chambre air", "MLRPUA chambre argon", "Tsurf chambre air", "Tsurf chambre argon"], "range": ["#d01010", "#2f3df0", "#cc1a1a", "#3a3ae6"]}},
          "strokeDash": {"field": "s", "type": "nominal", "scale": {"domain": ["MLRPUA chambre air", "MLRPUA chambre argon", "Tsurf chambre air", "Tsurf chambre argon"], "range": [[16, 4, 5, 4], [16, 4, 5, 4], [1, 0], [1, 0]]}},
          "strokeWidth": {"field": "s", "type": "nominal", "scale": {"type": "ordinal", "domain": ["MLRPUA chambre air", "MLRPUA chambre argon", "Tsurf chambre air", "Tsurf chambre argon"], "range": [4.5, 4.5, 1.6, 1.6]}}
        }
      }
    ],
    "resolve": {"scale": {"y": "independent"}, "axis": {"x": "independent"}}
  },
  {
    "width": 448,
    "height": 411,
    "title": {"text": "(b) Thermogrammes.", "orient": "bottom", "anchor": "middle", "font": "DejaVu Serif", "fontSize": 20, "fontWeight": "normal", "color": "black", "offset": 29},
    "layer": [
      {
        "data": {"name": "thermo"},
        "mark": {"type": "line", "strokeWidth": 1.8},
        "encoding": {
          "x": {"field": "t", "type": "quantitative", "scale": {"domain": [0, 60], "nice": false},
                "axis": {"orient": "bottom", "title": "Temps (min)", "values": [0,3,6,9,12,15,18,21,24,27,30,33,36,39,42,45,48,51,54,57,60], "labelExpr": "datum.value % 15 === 0 ? datum.label : ''", "grid": true, "gridOpacity": {"condition": {"test": "datum.value % 15 === 0", "value": 1}, "value": 0}, "tickSize": {"condition": {"test": "datum.value % 15 === 0", "value": -10}, "value": -5}, "labelPadding": 16, "titlePadding": -2}},
          "y": {"field": "T", "type": "quantitative", "scale": {"domain": [0, 750], "nice": false},
                "axis": {"orient": "left", "title": "Température (°C)", "values": [0,20,40,60,80,100,120,140,160,180,200,220,240,260,280,300,320,340,360,380,400,420,440,460,480,500,520,540,560,580,600,620,640,660,680,700,720,740], "labelExpr": "datum.value % 100 === 0 ? datum.label : ''", "grid": true, "gridOpacity": {"condition": {"test": "datum.value % 100 === 0", "value": 1}, "value": 0}, "tickSize": {"condition": {"test": "datum.value % 100 === 0", "value": -9}, "value": -5}, "labelPadding": 16, "titlePadding": 4}},
          "color": {"field": "g", "type": "nominal", "scale": {"domain": ["Chambre Air", "Chambre argon"], "range": ["#cc1a1a", "#3a3ae6"]},
                    "legend": {"orient": "none", "legendX": 64, "legendY": 30, "title": null, "symbolType": "M-5,0L5,0", "symbolSize": 213, "symbolStrokeWidth": 2, "symbolOpacity": 1, "labelFont": "DejaVu Sans", "labelFontSize": 15, "labelColor": "black", "labelOffset": 38, "labelLimit": 400, "rowPadding": 3, "padding": 0}},
          "strokeDash": {"field": "g", "type": "nominal", "scale": {"domain": ["Chambre Air", "Chambre argon"], "range": [[1, 0], [9, 6]]}},
          "detail": {"field": "d", "type": "nominal"}
        }
      },
      {
        "data": {"name": "labels"},
        "encoding": {
          "x": {"field": "t", "type": "quantitative", "scale": {"domain": [0, 60], "nice": false},
                "axis": {"orient": "top", "title": null, "labels": false, "grid": false, "values": [0,3,6,9,12,15,18,21,24,27,30,33,36,39,42,45,48,51,54,57,60], "tickSize": {"condition": {"test": "datum.value % 15 === 0", "value": -10}, "value": -5}}},
          "y": {"field": "T", "type": "quantitative", "scale": {"domain": [0, 750], "nice": false},
                "axis": {"orient": "right", "title": null, "labels": false, "grid": false, "values": [0,20,40,60,80,100,120,140,160,180,200,220,240,260,280,300,320,340,360,380,400,420,440,460,480,500,520,540,560,580,600,620,640,660,680,700,720,740], "tickSize": {"condition": {"test": "datum.value % 100 === 0", "value": -9}, "value": -5}}},
          "text": {"field": "label"}
        },
        "layer": [
          {"transform": [{"filter": "datum.g === 'Chambre Air'"}], "mark": {"type": "text", "align": "left", "baseline": "middle", "dx": 8, "font": "DejaVu Sans", "fontSize": 14, "color": "#cc0000"}},
          {"transform": [{"filter": "datum.g === 'Chambre argon'"}], "mark": {"type": "text", "align": "left", "baseline": "middle", "dx": 8, "font": "DejaVu Sans", "fontSize": 14, "color": "#3333ee"}}
        ]
      }
    ],
    "resolve": {"axis": {"x": "independent", "y": "independent"}}
  }
]
}
